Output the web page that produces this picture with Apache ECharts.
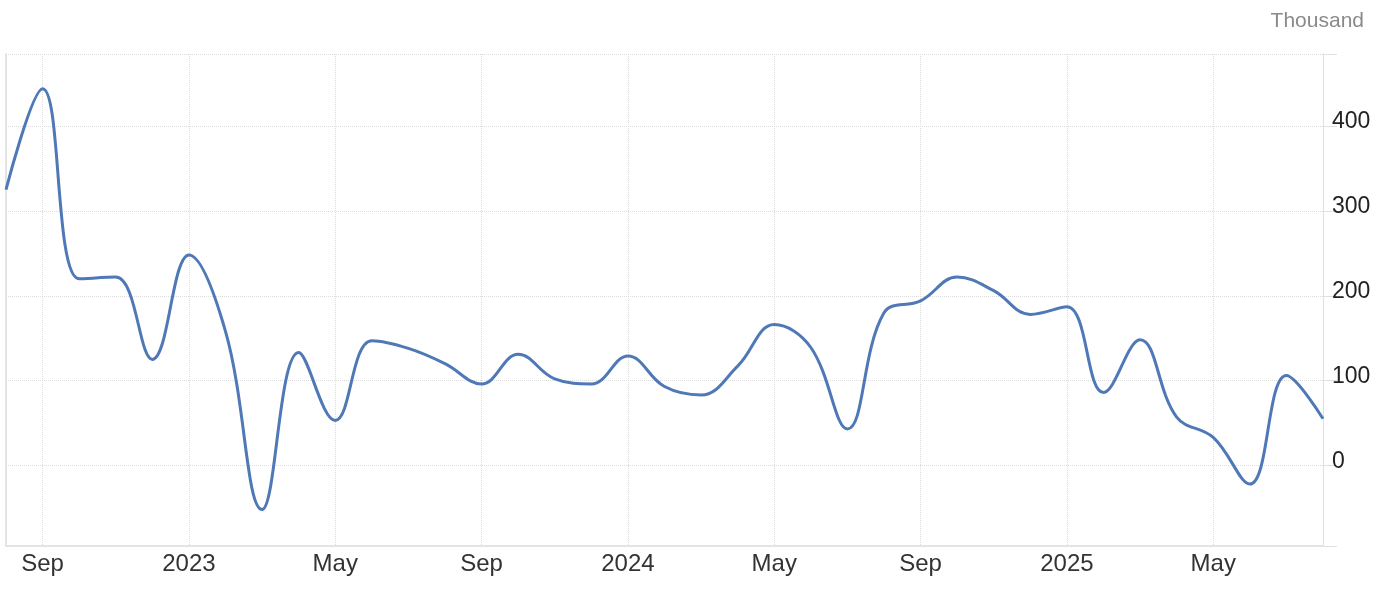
<!DOCTYPE html>
<html>
<head>
<meta charset="utf-8">
<style>
  html, body { margin: 0; padding: 0; background: #fff; }
  #chart { width: 1400px; height: 596px; }
</style>
<script src="https://cdn.jsdelivr.net/npm/echarts@6/dist/echarts.min.js"></script>
</head>
<body>
<div id="chart"></div>
<script>
// 月份 Aug 2022 -> Aug 2025, 一月显示年份
const months = [
  "Aug", "Sep", "Oct", "Nov", "Dec",
  "2023", "Feb", "Mar", "Apr", "May", "Jun", "Jul", "Aug", "Sep", "Oct", "Nov", "Dec",
  "2024", "Feb", "Mar", "Apr", "May", "Jun", "Jul", "Aug", "Sep", "Oct", "Nov", "Dec",
  "2025", "Feb", "Mar", "Apr", "May", "Jun", "Jul", "Aug",
];

// 数值 (Thousand)
const values = [
  325, 444, 220, 222, 125,
  248, 158, -52, 133, 53, 147, 138, 120, 96, 131, 102, 96,
  129, 93, 83, 117, 166, 139, 43, 180, 194, 222, 206, 178,
  187, 86, 148, 57, 33, -22, 106, 55,
];

const yTicks = [0, 100, 200, 300, 400];
const yMin = -95;
const yMax = 485;

const chart = echarts.init(document.getElementById("chart"));

// 每4个月一个标签 (Sep, Jan, May)
const showEvery4 = (index) => (index - 1) % 4 === 0;

const option = {
  animation: false,
  backgroundColor: "#fff",
  textStyle: { fontFamily: "Liberation Sans, Arial, sans-serif" },
  title: {
    text: "Thousand",
    right: 31,
    top: 6,
    textStyle: {
      fontSize: 21,
      fontWeight: "normal",
      color: "#8a8a8a",
      fontFamily: "Liberation Sans, Arial, sans-serif",
    },
  },
  grid: {
    left: 6,
    right: 77,
    top: 54,
    bottom: 50,
    containLabel: false,
  },
  xAxis: {
    type: "category",
    data: months,
    boundaryGap: false,
    axisLine: { show: true, onZero: false, lineStyle: { color: "#e4e4e4", width: 2 } },
    axisTick: { show: false },
    axisLabel: {
      interval: showEvery4,
      color: "#333",
      fontSize: 24,
      margin: 6,
    },
    splitLine: {
      show: true,
      interval: showEvery4,
      lineStyle: { color: "#dcdcdc", type: "dotted", width: 1 },
    },
  },
  yAxis: [
    {
      type: "value",
      position: "right",
      min: yMin,
      max: yMax,
      axisLine: { show: true, lineStyle: { color: "#e0e0e0", width: 1 } },
      axisTick: { show: true, length: 14, lineStyle: { color: "#e0e0e0" } },
      axisLabel: {
        color: "#222",
        fontSize: 23,
        margin: 9,
        verticalAlign: "bottom",
        lineHeight: 8,
        formatter: (v) => (yTicks.includes(v) ? String(v) : ""),
      },
      splitLine: {
        show: true,
        lineStyle: { color: "#dcdcdc", type: "dotted", width: 1 },
      },
    },
    {
      type: "value",
      position: "left",
      min: yMin,
      max: yMax,
      axisLine: { show: true, lineStyle: { color: "#e4e4e4", width: 2 } },
      axisTick: { show: false },
      axisLabel: { show: false },
      splitLine: { show: false },
    },
  ],
  series: [
    {
      type: "line",
      data: values,
      yAxisIndex: 0,
      smooth: 0.4,
      showSymbol: false,
      lineStyle: { color: "#4f78b6", width: 3 },
    },
  ],
};

chart.setOption(option);
</script>
</body>
</html>
